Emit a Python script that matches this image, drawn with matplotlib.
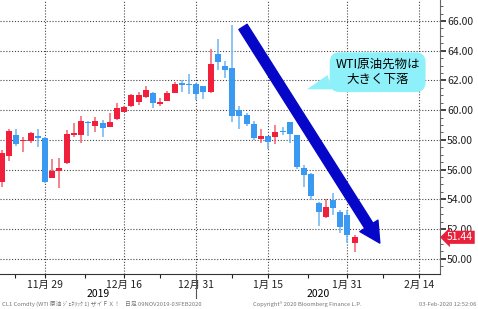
import matplotlib
matplotlib.use("Agg")
import matplotlib.pyplot as plt
import matplotlib.transforms as mtransforms
import numpy as np
import pandas as pd

plt.rcParams["font.family"] = ["Noto Sans CJK JP", "DejaVu Sans"]

# daily candles, 20 Nov 2019 - 3 Feb 2020 (NYMEX holidays skipped)
HOLIDAYS = ["2019-11-28", "2019-12-25", "2020-01-01", "2020-01-20"]
opens = [55.15, 56.94, 58.34, 57.90, 57.91, 58.27, 58.11, 55.44, 55.93, 56.43,
         58.30, 58.33, 59.20, 58.93, 59.16, 58.89, 59.38, 59.88, 60.27, 60.57,
         60.90, 61.13, 60.41, 60.64, 61.18, 61.80, 61.78, 61.76, 61.60, 61.20,
         63.78, 62.95, 62.83, 60.00, 59.70, 59.07, 58.05, 58.24, 58.17, 58.60,
         59.20, 58.30, 56.10, 55.69, 53.72, 52.78, 53.94, 53.16, 52.94, 51.03]
highs = [57.30, 58.70, 58.70, 58.20, 58.56, 58.70, 58.20, 56.72, 56.76, 58.63,
         59.12, 59.60, 59.25, 59.56, 59.33, 59.78, 60.49, 60.25, 61.10, 61.20,
         61.60, 61.24, 60.80, 61.30, 61.90, 62.05, 62.40, 61.80, 61.65, 64.10,
         64.77, 63.30, 65.70, 60.27, 59.82, 59.25, 58.73, 58.25, 59.03, 58.87,
         59.22, 58.32, 56.30, 55.78, 53.83, 54.05, 54.39, 53.30, 53.27, 51.60]
lows = [54.80, 56.60, 57.60, 57.20, 57.78, 57.50, 55.10, 55.40, 54.74, 56.34,
        58.18, 57.80, 58.25, 58.56, 58.18, 58.89, 59.33, 59.85, 60.18, 60.35,
        60.80, 60.13, 60.26, 60.60, 61.15, 61.25, 61.10, 60.68, 60.72, 61.18,
        62.72, 62.13, 59.22, 58.75, 58.91, 58.00, 57.78, 57.38, 57.74, 58.35,
        57.78, 56.04, 54.84, 53.94, 52.22, 52.75, 52.94, 51.75, 51.03, 50.47]
closes = [57.10, 58.58, 57.73, 58.00, 58.45, 58.11, 55.15, 55.93, 56.09, 58.40,
          58.45, 59.27, 59.12, 59.27, 58.78, 59.20, 60.11, 60.22, 61.02, 61.00,
          61.35, 60.46, 60.57, 61.13, 61.76, 61.72, 61.70, 61.07, 61.20, 63.10,
          63.26, 62.70, 59.60, 59.60, 59.07, 58.10, 58.24, 57.85, 58.55, 58.55,
          58.40, 56.15, 55.63, 54.21, 53.16, 53.45, 53.38, 52.15, 51.60, 51.44]
last_price = 51.44

tick_dates = ["2019-11-29", "2019-12-16", "2019-12-31", "2020-01-15", "2020-01-31", "2020-02-14"]
tick_labels = ["11月 29", "12月 16", "12月 31", "1月 15", "1月 31", "2月 14"]
y_ticks = [50, 52, 54, 56, 58, 60, 62, 64, 66]

callout_text = "WTI原油先物は\n大きく下落"
footer_left = "CL1 Comdty (WTI 原油 ｼﾞｪﾈﾘｯｸ 1) ザイＦＸ！    日足 09NOV2019-03FEB2020"
footer_mid = "Copyright® 2020 Bloomberg Finance L.P."
footer_right = "03-Feb-2020 12:52:06"

RED = "#f0203c"
BLUE = "#3a9af2"
RED_WICK = "#f2606f"
BLUE_WICK = "#6ab4f4"

days = pd.bdate_range("2019-11-20", "2020-02-14")
days = days[~days.isin(pd.to_datetime(HOLIDAYS))]
x = np.arange(len(opens))
o, h, l, c = (np.array(v) for v in (opens, highs, lows, closes))
up = c >= o

fig = plt.figure(figsize=(4.78, 3.09), dpi=100)
ax = fig.add_axes([0.0, 1 - 274 / 309, 440 / 478, 274 / 309])

ax.vlines(x, l, h, colors=np.where(up, RED_WICK, BLUE_WICK), linewidth=1.1, zorder=3)
body_h = np.maximum(np.abs(c - o), 0.07)
ax.bar(x, body_h, bottom=np.minimum(o, c), width=0.82,
       color=np.where(up, RED, BLUE), edgecolor="none", zorder=4)

ax.set_xlim(-0.25, 60.86)
ax.set_ylim(48.97, 67.41)

tick_pos = [days.get_loc(pd.Timestamp(d)) for d in tick_dates]
ax.set_xticks(tick_pos)
ax.set_xticklabels(tick_labels, fontsize=7.5)
ax.set_xticks([1.8, 11.5, 22, 32, 42.5, 53], minor=True)
ax.tick_params(axis="x", which="major", length=3, width=0.8, pad=1, colors="#222")
ax.tick_params(axis="x", which="minor", length=3, width=0.8, colors="#222")

ax.yaxis.tick_right()
ax.set_yticks(y_ticks)
ax.set_yticklabels([f"{v:.2f}" for v in y_ticks], fontsize=7.5)
ax.set_yticks(np.arange(49.5, 67.01, 0.5), minor=True)
ax.tick_params(axis="y", which="major", length=4, width=1.2, pad=1, colors="#222")
ax.tick_params(axis="y", which="minor", length=2, width=0.6, colors="#444")

ax.grid(True, which="major", color="#444", linestyle=(0, (1, 1.6)), linewidth=0.8)
for side in ("top", "left"):
    ax.spines[side].set_visible(False)
ax.spines["bottom"].set_color("#333")
ax.spines["right"].set_color("#666")

xt = ax.get_xaxis_transform()
year_split = days.get_loc(pd.Timestamp("2019-12-31"))
ax.plot([year_split, year_split], [0, -0.088], transform=xt, clip_on=False,
        color="#555", linewidth=0.8)
x0, x1 = ax.get_xlim()
ax.text((x0 + year_split) / 2, -0.073, "2019", transform=xt, ha="center", va="center", fontsize=7.5)
ax.text((year_split + x1) / 2, -0.073, "2020", transform=xt, ha="center", va="center", fontsize=7.5)

# big blue arrow
ax.annotate("", xy=(52.5, 51.05), xytext=(33.5, 65.6),
            arrowprops=dict(arrowstyle="simple,head_width=2.2,head_length=2.1,tail_width=1.0",
                            mutation_scale=7.0, color="#0606c8", shrinkA=0, shrinkB=0),
            zorder=6)

# speech bubble
ax.annotate(callout_text, xy=(42.4, 61.4), xytext=(52.2, 62.55), ha="center", va="center",
            fontsize=9, linespacing=1.25, zorder=7,
            bbox=dict(boxstyle="round,pad=0.45,rounding_size=0.8", fc="#8ef0f8", ec="none"),
            arrowprops=dict(arrowstyle="wedge,tail_width=1.2,shrink_factor=0.5", fc="#8ef0f8",
                            ec="none", relpos=(0.15, 0.35), shrinkA=0, shrinkB=0))

# last price tag
yt = mtransforms.blended_transform_factory(ax.transAxes, ax.transData)
ax.text(1.016, last_price, f"{last_price:.2f}", transform=yt, ha="left", va="center",
        fontsize=7.5, color="white", clip_on=False, zorder=8,
        bbox=dict(boxstyle="larrow,pad=0.15", fc="#e8203a", ec="none"))

fig.text(2 / 478, 1 - 304 / 309, footer_left, fontsize=4.2, color="#777", va="center")
fig.text(253 / 478, 1 - 304 / 309, footer_mid, fontsize=4.2, color="#777", va="center")
fig.text(476 / 478, 1 - 304 / 309, footer_right, fontsize=4.2, color="#777", va="center", ha="right")

fig.savefig("out.png", dpi=100)
